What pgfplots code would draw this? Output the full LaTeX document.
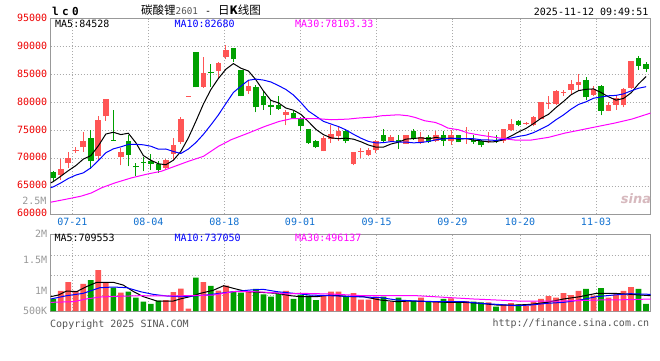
\documentclass[border=0pt]{standalone}
\usepackage{fontspec}
\usepackage{pgfplots}
\usepackage{pgfplotstable}
\pgfplotsset{compat=1.18}
\setmainfont{DejaVu Sans Mono}
\newfontfamily\cjk{Noto Sans CJK SC}
\newfontfamily\dvs{DejaVu Sans}
\newfontfamily\titlefont[LetterSpace=30]{DejaVu Sans Mono}
\definecolor{upred}{HTML}{FF5555}
\definecolor{dngreen}{HTML}{00A000}
\definecolor{lblred}{HTML}{EE0000}
\definecolor{lblblue}{HTML}{1070D0}
\definecolor{gridc}{HTML}{AAAAAA}
\definecolor{boxc}{HTML}{999999}
\definecolor{volgray}{HTML}{999999}
\definecolor{txtgray}{HTML}{555555}
\definecolor{magc}{HTML}{FF00FF}
\definecolor{bluec}{HTML}{0000FF}
\definecolor{sinac}{RGB}{215,185,190}

\pgfplotstableread{
i o h l c
1 66980 69950 66200 68160
2 69120 71200 68280 70070
3 71320 71970 70960 71560
4 71970 74710 71140 73160
6 70360 77500 69770 76910
7 77500 80660 76730 80660
9 70190 71850 68760 71080
15 68280 69950 67930 69770
16 70780 73640 69770 72450
17 72920 77330 72570 77090
18 81050 81230 81050 81230
20 82860 88100 82680 85240
22 85660 87325 84350 87025
23 88215 90300 87800 89405
26 82086 83990 81550 82980
31 77800 78700 75900 78340
36 71260 73940 71260 73640
37 73460 76000 72740 74350
38 73940 75540 73160 74950
40 69057 71080 68760 71080
41 71200 71850 70070 71380
42 70660 71850 70365 71440
43 71560 73340 70960 73040
45 73160 74230 73040 73880
47 72570 74230 72570 74230
49 72750 74650 72570 73880
51 73040 74830 72920 74230
53 73160 75120 72450 74110
55 73400 75540 72630 73580
58 72920 74710 72740 73160
60 73040 75300 72740 75300
61 75120 77090 74950 76140
63 76200 76500 76020 76380
64 75900 77620 75720 77330
65 77090 80060 77090 80060
66 79650 81080 78870 79830
67 79710 82270 79590 82090
68 81700 82270 81190 81880
69 82270 84050 81370 83280
70 83160 85060 82270 83750
72 81370 83040 81190 82440
74 78520 80060 78400 79470
75 79590 81370 78700 80780
76 79470 82680 79110 82440
77 82680 87440 82440 87440
}\uptable

\pgfplotstableread{
i o h l c
0 67500 67800 65900 66400
5 73640 75010 68100 69470
8 73340 78640 73160 73160
10 73160 74110 68580 70660
11 68640 69180 66800 68400
12 69410 70190 67690 69180
13 69470 70780 67990 69000
14 69000 69470 67450 67930
19 89100 89100 82700 82700
21 85540 86900 82860 85420
24 89700 89820 87325 87740
25 85835 85835 81075 81075
27 82860 83160 78220 79110
28 81190 81970 78700 79470
29 79470 80480 77800 79230
30 79470 81190 78700 78870
32 78040 78520 77090 77210
33 77210 77330 74830 75720
34 75240 75240 72570 72690
35 73160 73280 71850 71970
39 74950 75240 72690 73160
44 74110 75300 72870 73160
46 73340 74110 71730 72920
48 74830 75180 73340 73520
50 73880 74110 72750 72920
52 74110 74830 72270 73040
54 74230 74230 72860 72860
56 73340 74110 72630 72860
57 73040 73340 71970 72330
59 73340 74110 72740 73040
62 76730 76850 75840 76020
71 84050 84650 80360 80900
73 83040 83160 77680 78520
78 88040 88390 85840 86550
79 86850 87200 85420 86010
}\downtable

\pgfplotstableread{
i v
-0.35 65600
0 65850
1 66800
2 67800
3 68700
4 69870
5 70484
6 72234
7 74352
8 74672
9 74256
10 74494
11 72792
12 70496
13 69664
14 69034
15 68856
16 69666
17 71248
18 73674
19 76628
20 79722
21 82316
22 84303
23 85958
24 86966
25 86133
26 85645
27 84062
28 82075
29 80373
30 79932
31 79004
32 78624
33 77874
34 76566
35 75186
36 74246
37 73674
38 73520
39 73614
40 73436
41 72972
42 72390
43 72008
44 72008
45 72568
46 72888
47 73446
48 73542
49 73686
50 73494
51 73756
52 73518
53 73636
54 73432
55 73552
56 73278
57 73136
58 72946
59 72982
60 73338
61 73994
62 74732
63 75364
64 76222
65 77174
66 77888
67 79102
68 80196
69 81386
70 82124
71 82362
72 82432
73 81778
74 81016
75 80422
76 80730
77 81730
78 83336
79 84644
}\maA

\pgfplotstableread{
i v
-0.35 64750
0 64900
1 65600
2 66400
3 67000
4 67400
5 68300
6 69600
7 71000
8 71700
9 72063
10 72489
11 72513
12 72424
13 72168
14 71645
15 71675
16 71229
17 70872
18 71669
19 72831
20 74289
21 75991
22 77776
23 79816
24 81797
25 82928
26 83981
27 84183
28 84017
29 83670
30 83033
31 82325
32 81343
33 79975
34 78470
35 77559
36 76625
37 76149
38 75697
39 75090
40 74311
41 73609
42 73032
43 72764
44 72811
45 73002
46 72930
47 72918
48 72775
49 72847
50 73031
51 73322
52 73482
53 73589
54 73559
55 73523
56 73517
57 73327
58 73291
59 73207
60 73445
61 73636
62 73934
63 74155
64 74602
65 75256
66 75941
67 76917
68 77780
69 78804
70 79649
71 80125
72 80767
73 80987
74 81201
75 81273
76 81546
77 82081
78 82557
79 82830
}\maB

\pgfplotstableread{
i v
-0.35 62150
1.5 62630
3.7 63230
5.1 63820
6.4 64710
8.2 65600
10.4 66500
12.6 67210
14.4 67690
16.2 68580
18.0 69470
20.0 70360
22.0 72150
23.7 73340
26.0 74530
28.2 75720
30.1 76610
31.7 77090
33.5 77090
35.3 77090
37.1 76910
39.3 77030
40.6 77210
42.6 77390
43.7 77620
46.0 77800
47.3 77620
48.2 77330
49.5 76730
50.9 76430
51.7 76010
52.6 75420
54.0 75120
55.3 74530
57.1 74110
58.9 73760
60.0 73520
61.5 73280
63.7 73280
66.0 73760
68.2 74530
70.4 75120
72.6 75720
74.8 76310
77.1 77030
79.59 78100
}\maC

\pgfplotstableread{
i v
1 992
2 1139
3 992
4 1107
6 1336
7 1134
9 965
15 844
16 975
17 1030
18 702
20 1139
22 997
23 1079
26 981
31 992
36 926
37 981
38 981
40 959
41 850
42 850
43 899
45 817
47 817
49 883
51 828
53 872
55 828
58 806
60 773
61 795
63 751
64 817
65 861
66 910
67 883
68 959
69 926
70 992
72 915
74 883
75 937
76 992
77 1057
}\volup

\pgfplotstableread{
i v
0 861
5 1172
8 1046
10 981
11 883
12 817
13 779
14 833
19 1210
21 1074
24 981
25 965
27 1025
28 937
29 899
30 965
32 861
33 926
34 915
35 844
39 910
44 899
46 883
48 828
50 828
52 861
54 817
56 817
57 806
59 735
62 773
71 1025
73 1041
78 1025
79 779
}\voldown

\pgfplotstableread{
i v
-0.35 899
0.67 926
1.78 992
3.1 981
4.4 1063
5.8 1134
8.0 1134
9.3 1090
10.7 981
12.0 899
13.8 828
16.0 828
16.9 861
18.2 899
19.6 954
21.3 1003
22.7 1079
24.0 1036
25.8 981
27.6 970
29.8 954
31.6 915
32.9 899
35.1 899
36.9 926
39.6 899
41.3 899
43.6 844
45.8 817
47.6 828
50.2 817
52.4 806
54.7 806
56.9 790
59.1 762
61.8 762
63.6 773
65.8 806
68.0 861
70.2 899
72.4 954
74.7 954
76.9 937
79.59 915
}\vmaA

\pgfplotstableread{
i v
-0.35 861
1.78 915
4.0 954
6.2 1046
8.0 1057
9.8 1046
11.6 981
13.3 937
15.1 910
16.9 899
18.7 910
20.4 926
22.2 954
24.0 981
26.2 1008
28.0 1019
29.8 981
32.0 954
34.2 926
36.9 915
40.5 899
43.6 883
45.8 844
48.4 828
51.1 817
54.7 817
56.9 790
59.1 773
61.8 751
63.6 762
65.8 790
68.0 806
70.2 844
72.4 899
74.7 926
76.9 948
79.59 937
}\vmaB

\pgfplotstableread{
i v
-0.35 806
2.7 817
4.4 861
6.2 893
8.4 904
11.6 915
15.1 910
17.8 915
21.3 926
23.0 960
24.0 981
26.7 981
29.3 965
31.1 943
32.9 954
36.9 943
41.3 915
48.4 915
50.7 899
52.9 883
56.0 861
59.1 844
61.8 828
68.0 828
72.4 844
76.9 850
79.59 861
}\vmaC

\pgfplotsset{
  candle/.style 2 args={draw=none, mark=none, forget plot,
    error bars/.cd, y dir=plus, y explicit, error mark=none,
    error bar style={line width=#1, draw=#2, solid}},
}

\begin{document}
\begin{tikzpicture}
\path[use as bounding box, fill=white] (0,0) rectangle (660pt,-360pt);

\begin{axis}[
  at={(50.7pt,-214.2pt)}, anchor=south west, scale only axis,
  width=599.8pt, height=195.5pt,
  xmin=-0.35, xmax=79.59, ymin=60000, ymax=95000,
  scaled y ticks=false, scaled x ticks=false,
  axis line style={boxc, line width=1pt},
  xtick={2.53,12.66,22.79,32.88,43.10,53.18,62.20,72.33},
  xticklabels={07-21,08-04,08-18,09-01,09-15,09-29,10-20,11-03},
  ytick={60000,65000,70000,75000,80000,85000,90000,95000},
  yticklabels={60000,65000,70000,75000,80000,85000,90000,95000},
  major tick length=0pt,
  xmajorgrids, ymajorgrids,
  grid style={gridc, dash pattern=on 1pt off 2pt, line width=0.8pt},
  xticklabel style={font=\fontsize{10}{12}\selectfont, text=lblblue},
  yticklabel style={font=\fontsize{10}{12}\selectfont, text=lblred, yshift=1pt},
]
% wicks
\addplot[candle={1pt}{upred}] table[x=i, y=l, y error expr=\thisrow{h}-\thisrow{l}] {\uptable};
\addplot[candle={1pt}{dngreen}] table[x=i, y=l, y error expr=\thisrow{h}-\thisrow{l}] {\downtable};
% bodies
\addplot[candle={5.7pt}{upred}] table[x=i, y=o, y error expr=\thisrow{c}-\thisrow{o}] {\uptable};
\addplot[candle={5.7pt}{dngreen}] table[x=i, y=c, y error expr=\thisrow{o}-\thisrow{c}] {\downtable};
% moving averages
\addplot[black, line width=1pt, mark=none] table[x=i, y=v] {\maA};
\addplot[bluec, line width=1pt, mark=none] table[x=i, y=v] {\maB};
\addplot[magc, line width=1pt, mark=none] table[x=i, y=v] {\maC};
\end{axis}

\begin{axis}[
  at={(50.7pt,-311pt)}, anchor=south west, scale only axis,
  width=599.8pt, height=77pt,
  xmin=-0.35, xmax=79.59, ymin=664, ymax=1926,
  scaled y ticks=false, scaled x ticks=false,
  axis line style={boxc, line width=1pt},
  xtick={2.53,12.66,22.79,32.88,43.10,53.18,62.20,72.33},
  xticklabels={},
  ytick={664,1000,1500,1926},
  yticklabels={500K,1M,1.5M,2M},
  major tick length=0pt,
  xmajorgrids,
  extra y ticks={926,1254,1570}, extra y tick labels={},
  extra y tick style={grid=major},
  grid style={gridc, dash pattern=on 1pt off 2pt, line width=0.8pt},
  yticklabel style={font=\fontsize{10}{12}\selectfont, text=volgray},
]
\addplot[ybar, bar width=5.7pt, bar shift=0pt, fill=upred, draw=none] table[x=i, y=v] {\volup};
\addplot[ybar, bar width=5.7pt, bar shift=0pt, fill=dngreen, draw=none] table[x=i, y=v] {\voldown};
\addplot[black, line width=1pt, mark=none] table[x=i, y=v] {\vmaA};
\addplot[bluec, line width=1pt, mark=none] table[x=i, y=v] {\vmaB};
\addplot[magc, line width=1pt, mark=none] table[x=i, y=v] {\vmaC};
\end{axis}

\begin{scope}[every node/.style={inner sep=0pt, font=\fontsize{10}{12}\selectfont}]
\node[anchor=base west, font=\titlefont\fontsize{11}{11}\selectfont\bfseries] at (52pt,-15pt) {lc0};
\node[anchor=base west] at (141pt,-14.5pt) {{\cjk\fontsize{11.5}{12}\selectfont 碳酸锂}{\fontsize{9.3}{10}\selectfont\color{txtgray}2601}\hspace{7pt}-\hspace{7pt}{\cjk\fontsize{11.5}{12}\selectfont 日\textbf{K}线图}};
\node[anchor=base east] at (648.5pt,-15pt) {2025-11-12 09:49:51};
\node[anchor=base west] at (55pt,-27pt) {MA5:84528};
\node[anchor=base west, text=bluec] at (174.3pt,-27pt) {MA10:82680};
\node[anchor=base west, text=magc] at (295pt,-27pt) {MA30:78103.33};
\node[anchor=base east, text=volgray] at (46.7pt,-204pt) {2.5M};
\node[anchor=base west] at (54.3pt,-241.7pt) {MA5:709553};
\node[anchor=base west, text=bluec] at (174.3pt,-241.7pt) {MA10:737050};
\node[anchor=base west, text=magc] at (295pt,-241.7pt) {MA30:496137};
\node[anchor=base west, text=txtgray] at (50pt,-327.3pt) {Copyright 2025 SINA.COM};
\node[anchor=base east, text=txtgray] at (649.3pt,-326.5pt) {http://finance.sina.com.cn};
\node[anchor=center, text=sinac, font=\dvs\bfseries\itshape\fontsize{13}{13}\selectfont] at (636pt,-199pt) {sina};
\end{scope}
\end{tikzpicture}
\end{document}
